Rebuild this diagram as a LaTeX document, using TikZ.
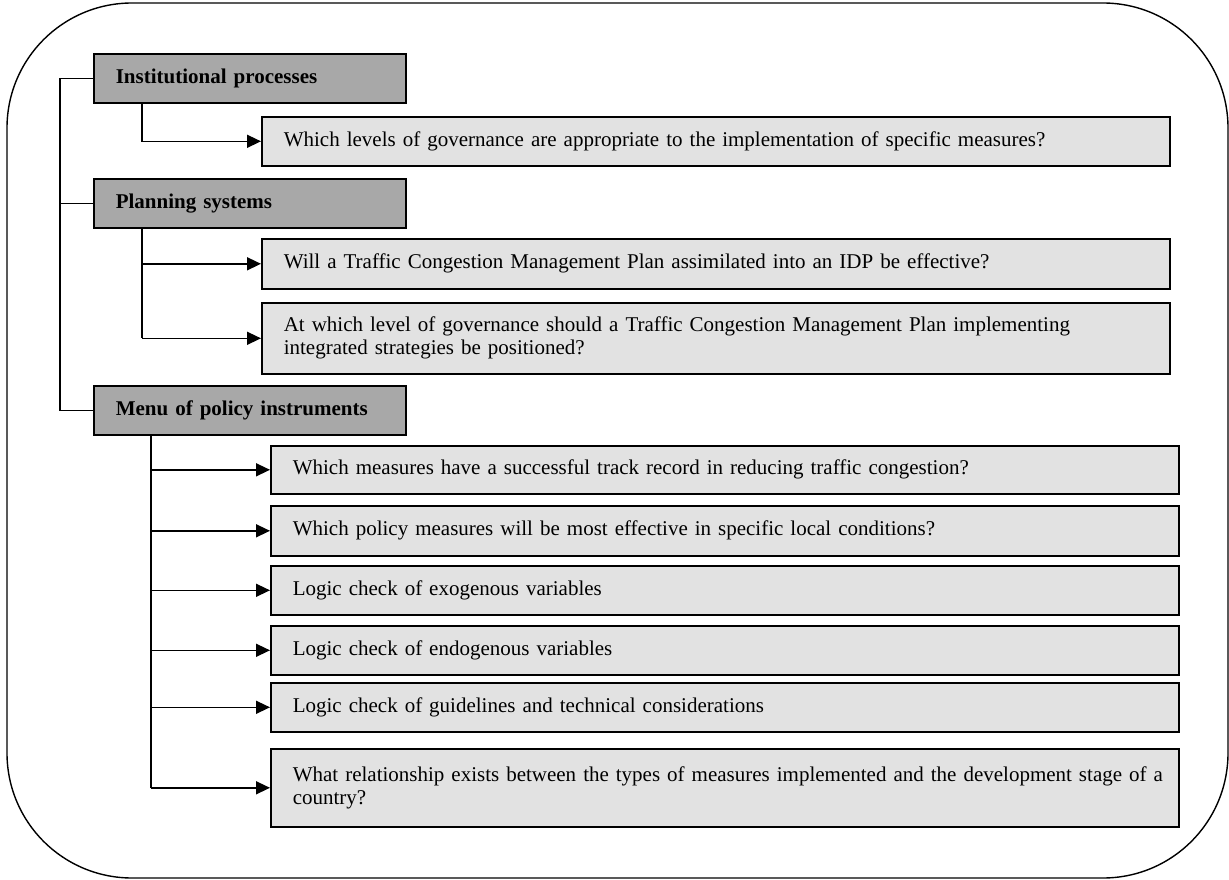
\documentclass[tikz,border=0pt]{standalone}
\usepackage{fontspec}
\setmainfont{Liberation Serif}
\usetikzlibrary{arrows.meta}
\definecolor{headgray}{RGB}{168,168,168}
\definecolor{qgray}{RGB}{226,226,226}
\begin{document}
\begin{tikzpicture}[x=1pt,y=-1pt,
  frame/.style={line width=1.4pt, rounded corners=125pt},
  boxbase/.style={draw, line width=1.6pt, anchor=north west, inner xsep=22pt,
    inner ysep=3pt, align=left, font=\fontsize{21}{23}\selectfont},
  head/.style={boxbase, fill=headgray, minimum width=312pt, minimum height=49pt,
    text width=268pt, font=\fontsize{21}{23}\selectfont\bfseries},
  qbox/.style={boxbase, fill=qgray, minimum width=908pt, text width=864pt},
  link/.style={line width=1.5pt},
  arr/.style={link, -{Triangle[length=14pt,width=13pt]}}
]
\useasboundingbox (0,0) rectangle (1229,880);
\draw[frame] (7,3) rectangle (1228,878);

% top-level headings
\node[head] (h1) at (93,53)  {Institutional processes};
\node[head] (h2) at (93,178) {Planning systems};
\node[head] (h3) at (93,385) {Menu of policy instruments};

% questions
\node[qbox, minimum height=49pt] (q1) at (261,116) {Which levels of governance are appropriate to the implementation of specific measures?};
\node[qbox, minimum height=50pt] (q2) at (261,238) {Will a Traffic Congestion Management Plan assimilated into an IDP be effective?};
\node[qbox, minimum height=71pt] (q3) at (261,302) {At which level of governance should a Traffic Congestion Management Plan implementing\\ integrated strategies be positioned?};
\node[qbox, minimum height=48pt] (q4) at (270,445) {Which measures have a successful track record in reducing traffic congestion?};
\node[qbox, minimum height=50pt] (q5) at (270,505) {Which policy measures will be most effective in specific local conditions?};
\node[qbox, minimum height=49pt] (q6) at (270,565) {Logic check of exogenous variables};
\node[qbox, minimum height=49pt] (q7) at (270,625) {Logic check of endogenous variables};
\node[qbox, minimum height=49pt] (q8) at (270,682) {Logic check of guidelines and technical considerations};
\node[qbox, minimum height=78pt] (q9) at (270,748) {\mbox{What relationship exists between the types of measures implemented and the development stage of a}\\ country?};

% main trunk joining the headings
\coordinate (trunk) at ([xshift=-33pt]h1.west);
\draw[link] (h1.west) -- (trunk) |- (h3.west);
\draw[link] (trunk |- h2.west) -- (h2.west);

% institutional processes
\draw[arr] ([xshift=49pt]h1.south west) |- (q1.west);

% planning systems
\coordinate (pt) at ([xshift=49pt]h2.south west);
\draw[link] (pt) -- (pt |- q3.west);
\draw[arr] (pt |- q2.west) -- (q2.west);
\draw[arr] (pt |- q3.west) -- (q3.west);

% menu of policy instruments
\coordinate (mt) at ([xshift=58pt]h3.south west);
\draw[link] (mt) -- (mt |- q9.west);
\foreach \q in {q4,q5,q6,q7,q8,q9}
  \draw[arr] (mt |- \q.west) -- (\q.west);
\end{tikzpicture}
\end{document}
